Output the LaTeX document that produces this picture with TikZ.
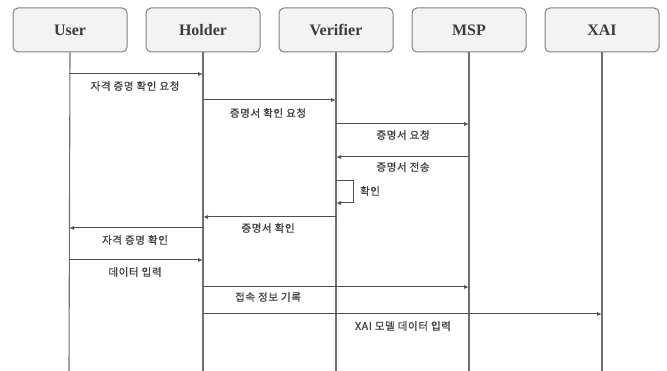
\documentclass[tikz,border=0pt]{standalone}
\usepackage{fontspec}
\setmainfont{Liberation Serif}
\newfontfamily\kor[FakeBold=0.9,LetterSpace=6]{Noto Sans CJK KR}
\usetikzlibrary{arrows.meta}
\definecolor{boxfill}{HTML}{F3F3F3}
\definecolor{boxline}{HTML}{808080}
\definecolor{lifeline}{HTML}{707070}
\definecolor{msgline}{HTML}{505050}
\definecolor{labeltxt}{HTML}{404040}
\definecolor{actortxt}{HTML}{3C3C3C}
\tikzset{
  actor/.style={draw=boxline, fill=boxfill, rounded corners=5pt, line width=1pt,
    minimum width=114pt, minimum height=44pt, inner sep=0pt,
    font=\bfseries\fontsize{16}{16}\selectfont, text=actortxt},
  life/.style={draw=lifeline, line width=1.1pt},
  msg/.style={draw=msgline, line width=1pt, -{Latex[length=5pt,width=4pt]}},
  lbl/.style={font=\kor\fontsize{10.5}{11}\selectfont, text=labeltxt, inner sep=0pt},
}
\begin{document}
\begin{tikzpicture}[x=1pt,y=-1pt]
\useasboundingbox (0,0) rectangle (667,371);
\node[actor] (user) at (70,30) {User};
\node[actor] (holder) at (203,30) {Holder};
\node[actor] (verifier) at (336,30) {Verifier};
\node[actor] (msp) at (469,30) {MSP};
\node[actor] (xai) at (602,30) {XAI};
\foreach \n/\x in {user/69,holder/203,verifier/336,msp/469,xai/602}{
  \coordinate (\n end) at (\x,371);
  \draw[life] (\n.south) -- (\n end);
}
% message anchors
\foreach \n/\x in {user/69,holder/203,verifier/336,msp/469,xai/602}{
  \foreach \y in {74,100,124,157,217,228,260,287,314}{
    \coordinate (\n\y) at (\x,\y);
  }
}
\draw[msg] (user74) -- (holder74);
\node[lbl] (l1) at (135,86) {자격 증명 확인 요청};
\draw[msg] (holder100) -- (verifier100);
\node[lbl] (l2) at (268,113) {증명서 확인 요청};
\draw[msg] (verifier124) -- (msp124);
\node[lbl] (l3) at (403,135) {증명서 요청};
\draw[msg] (msp157) -- (verifier157);
\node[lbl] (l4) at (403,167) {증명서 전송};
\coordinate (s1) at (336,181);
\coordinate (s2) at (353,181);
\coordinate (s3) at (353,203);
\coordinate (s4) at (336,203);
\draw[msg] (s1) -- (s2) -- (s3) -- (s4);
\node[lbl] (l5) at (370,191) {확인};
\draw[msg] (verifier217) -- (holder217);
\node[lbl] (l6) at (268,228) {증명서 확인};
\draw[msg] (holder228) -- (user228);
\node[lbl] (l7) at (135,240) {자격 증명 확인};
\draw[msg] (user260) -- (holder260);
\node[lbl] (l8) at (135,272) {데이터 입력};
\draw[msg] (holder287) -- (msp287);
\node[lbl] (l9) at (268,297) {접속 정보 기록};
\draw[msg] (holder314) -- (xai314);
\node[lbl] (l10) at (403,326) {XAI 모델 데이터 입력};
\end{tikzpicture}
\end{document}
